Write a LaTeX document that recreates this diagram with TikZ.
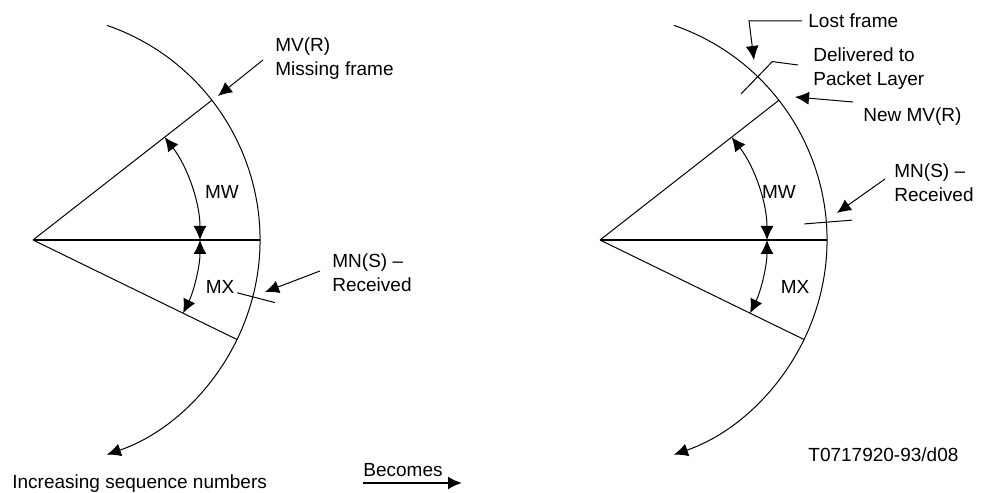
\documentclass[tikz,border=0pt]{standalone}
\usepackage{fontspec}
\setmainfont{Liberation Sans}
\usetikzlibrary{arrows.meta}

\begin{document}
\begin{tikzpicture}
[x=0.5pt,y=0.5pt,
  labeldecorate/.style={inner sep=0pt,align=left,font=\fontsize{9.5}{12}\selectfont},%
  linedecorate/.style={-,line width=0.5pt},%
  axisdecorate/.style={-,line width=1pt},%
  pointerdecorate/.style={-{Latex[length=7pt,width=6.5pt]},line width=0.5pt},%
  spandecorate/.style={{Latex[length=7pt,width=6.5pt]}-{Latex[length=7pt,width=6.5pt]},line width=0.5pt}]
\useasboundingbox (0,0) rectangle (981,493);
%% the two windows, before and after
\foreach \side/\x in {L/33, R/600}
{
  \coordinate (apex\side) at (\x,253);
  \draw[pointerdecorate] (apex\side) ++(71:227) arc[start angle=71,end angle=-71,radius=227];
  \draw[linedecorate] (apex\side) -- ++(38:227);
  \draw[linedecorate] (apex\side) -- ++(-26:227);
  \draw[axisdecorate] (apex\side) -- ++(0:227);
  \draw[spandecorate] (apex\side) ++(38:167) arc[start angle=38,end angle=0,radius=167];
  \draw[spandecorate] (apex\side) ++(0:167) arc[start angle=0,end angle=-26,radius=167];
}
%% labels (multi-line ones sit on their last line)
\node[labeldecorate] (mwL) at (222,301) {MW};
\node[labeldecorate] (mxL) at (220,206) {MX};
\node[labeldecorate] (mwR) at (779,301) {MW};
\node[labeldecorate] (mxR) at (795,206) {MX};
\node[labeldecorate,anchor=base west] (mvrL) at (275,417) {MV(R)\\Missing frame};
\node[labeldecorate,anchor=base west] (mnsL) at (332,201) {MN(S) \textendash\\Received};
\node[labeldecorate,anchor=base west] (lostR) at (808,465) {Lost frame};
\node[labeldecorate,anchor=base west] (delivR) at (813,407) {Delivered to\\Packet Layer};
\node[labeldecorate,anchor=base west] (newmvR) at (863,371) {New MV(R)};
\node[labeldecorate,anchor=base west] (mnsR) at (894,291) {MN(S) \textendash\\Received};
\node[labeldecorate,anchor=base west] (incr) at (12,4) {Increasing sequence numbers};
\node[labeldecorate,anchor=base west] (becomes) at (363,16) {Becomes};
\node[labeldecorate,anchor=base west] (tnum) at (808,31) {T0717920-93/d08};
%% pointer ends and ticks
\coordinate (mvrTail) at (263,433);
\coordinate (mvrTip) at (218,397);
\coordinate (mnsLTail) at (320,222);
\coordinate (mnsLTip) at (265,201);
\coordinate (tickLIn) at ([shift={(-14.5:211)}]apexL);
\coordinate (tickLOut) at ([shift={(-14.5:250)}]apexL);
\coordinate (lostStart) at (802,472);
\coordinate (lostBend) at (749,472);
\coordinate (lostTip) at (754,433);
\coordinate (delivEnd) at (798,428);
\coordinate (delivBend) at ([shift={(46:248)}]apexR);
\coordinate (delivIn) at ([shift={(46:203)}]apexR);
\coordinate (newmvTail) at (853,391);
\coordinate (newmvTip) at (795,396);
\coordinate (mnsRTail) at (885,314);
\coordinate (mnsRTip) at (837,280);
\coordinate (tickRIn) at ([shift={(4.5:205)}]apexR);
\coordinate (tickROut) at ([shift={(4.5:253)}]apexR);
\coordinate (becomesTail) at (363,10);
\coordinate (becomesTip) at (462,10);
%% connectors
\draw[pointerdecorate] (mvrTail) -- (mvrTip);
\draw[pointerdecorate] (mnsLTail) -- (mnsLTip);
\draw[linedecorate] (tickLIn) -- (tickLOut);
\draw[pointerdecorate] (lostStart) -- (lostBend) -- (lostTip);
\draw[linedecorate] (delivEnd) -- (delivBend) -- (delivIn);
\draw[pointerdecorate] (newmvTail) -- (newmvTip);
\draw[pointerdecorate] (mnsRTail) -- (mnsRTip);
\draw[linedecorate] (tickRIn) -- (tickROut);
\draw[pointerdecorate,line width=1pt] (becomesTail) -- (becomesTip);
\end{tikzpicture}
\end{document}
